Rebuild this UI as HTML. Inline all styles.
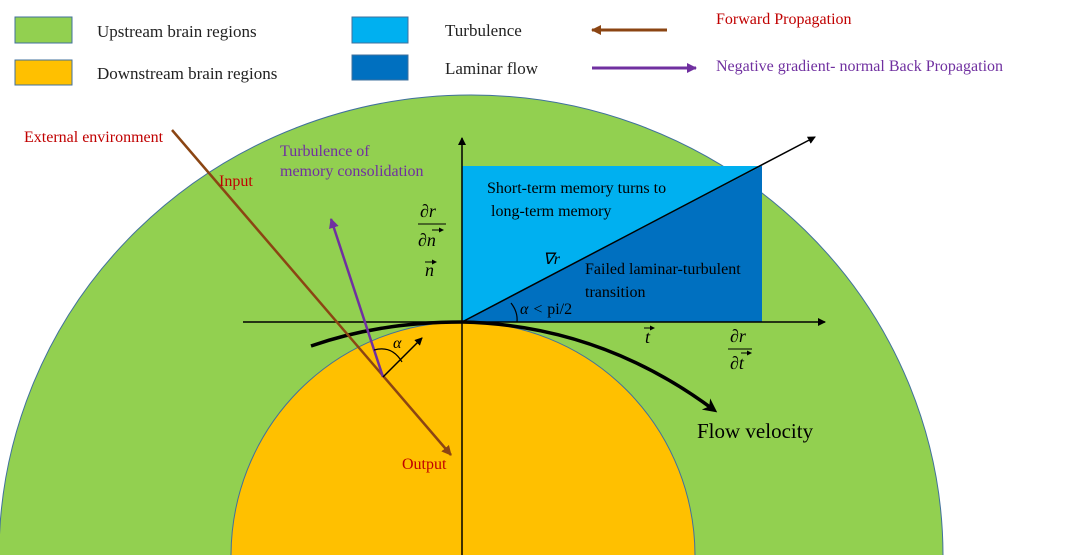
<!DOCTYPE html>
<html><head><meta charset="utf-8"><style>
html,body{margin:0;background:#fff;width:1080px;height:555px;overflow:hidden}
svg{display:block;font-family:"Liberation Serif",serif}
</style></head><body>
<svg width="1080" height="555" viewBox="0 0 1080 555" xmlns="http://www.w3.org/2000/svg">
<defs>
<marker id="ab" markerWidth="8" markerHeight="8" refX="7" refY="4" orient="auto" markerUnits="userSpaceOnUse"><path d="M0,0 L8,4 L0,8z" fill="#000"/></marker>
<marker id="ab2" markerWidth="14" markerHeight="14" refX="10" refY="7" orient="auto" markerUnits="userSpaceOnUse"><path d="M0,0 L14,7 L0,14 L4,7z" fill="#000"/></marker>
<marker id="abr" markerWidth="10" markerHeight="10" refX="9" refY="5" orient="auto" markerUnits="userSpaceOnUse"><path d="M0,0 L10,5 L0,10z" fill="#8B4513"/></marker>
<marker id="apu" markerWidth="10" markerHeight="10" refX="9" refY="5" orient="auto" markerUnits="userSpaceOnUse"><path d="M0,0 L10,5 L0,10z" fill="#7030A0"/></marker>
<marker id="sm" markerWidth="5" markerHeight="5" refX="4" refY="2.5" orient="auto" markerUnits="userSpaceOnUse"><path d="M0,0 L5,2.5 L0,5z" fill="#000"/></marker>
</defs>
<!-- legend -->
<rect x="15" y="17" width="57" height="26" fill="#92D050" stroke="#41719C" stroke-width="1"/>
<rect x="15" y="60" width="57" height="25" fill="#FFC000" stroke="#41719C" stroke-width="1"/>
<rect x="352" y="17" width="56" height="26" fill="#00B0F0" stroke="#41719C" stroke-width="1"/>
<rect x="352" y="55" width="56" height="25" fill="#0070C0" stroke="#41719C" stroke-width="1"/>
<g font-size="17" fill="#222">
<text x="97" y="37">Upstream brain regions</text>
<text x="97" y="79">Downstream brain regions</text>
<text x="445" y="36">Turbulence</text>
<text x="445" y="74">Laminar flow</text>
</g>
<line x1="667" y1="30" x2="592" y2="30" stroke="#8B4513" stroke-width="3" marker-end="url(#abr)"/>
<line x1="592" y1="68" x2="696" y2="68" stroke="#7030A0" stroke-width="3" marker-end="url(#apu)"/>
<text x="716" y="24" font-size="16" fill="#C00000">Forward Propagation</text>
<text x="716" y="71" font-size="16" fill="#7030A0">Negative gradient- normal Back Propagation</text>
<!-- regions -->
<ellipse cx="471" cy="556" rx="472" ry="461" fill="#92D050" stroke="#41719C" stroke-width="1"/>
<ellipse cx="463" cy="556" rx="232" ry="234" fill="#FFC000" stroke="#41719C" stroke-width="1"/>
<rect x="462" y="166" width="300" height="156" fill="#00B0F0"/>
<polygon points="462,322 762,166 762,322" fill="#0070C0"/>
<!-- axes -->
<line x1="243" y1="322" x2="825" y2="322" stroke="#000" stroke-width="1.5" marker-end="url(#ab)"/>
<line x1="462" y1="555" x2="462" y2="138" stroke="#000" stroke-width="1.5" marker-end="url(#ab)"/>
<line x1="462" y1="322" x2="815" y2="137" stroke="#000" stroke-width="1.5" marker-end="url(#ab)"/>
<!-- flow curve -->
<path d="M311,346 Q380,322 462,322 Q600,325 714,410" fill="none" stroke="#000" stroke-width="3.5" marker-end="url(#ab2)"/>
<!-- lines -->
<line x1="172" y1="130" x2="451" y2="455" stroke="#8B4513" stroke-width="2.5" marker-end="url(#abr)"/>
<line x1="383" y1="377" x2="331" y2="219" stroke="#7030A0" stroke-width="2.5" marker-end="url(#apu)"/>
<line x1="383" y1="377" x2="422" y2="338" stroke="#000" stroke-width="1.5" marker-end="url(#ab)"/>
<path d="M374,350 Q392,345 402,362" fill="none" stroke="#000" stroke-width="1.2"/>
<path d="M511,303 Q518,312 517,322" fill="none" stroke="#000" stroke-width="1.2"/>
<!-- labels -->
<text x="24" y="142" font-size="16" fill="#C00000">External environment</text>
<text x="219" y="186" font-size="16" fill="#C00000">Input</text>
<text x="280" y="156" font-size="16" fill="#7030A0">Turbulence of</text>
<text x="280" y="176" font-size="16" fill="#7030A0">memory consolidation</text>
<text x="402" y="469" font-size="16" fill="#C00000">Output</text>
<text x="697" y="438" font-size="21" fill="#000">Flow velocity</text>
<g font-size="16" fill="#000">
<text x="487" y="193">Short-term memory turns to</text>
<text x="491" y="216">long-term memory</text>
<text x="585" y="274">Failed laminar-turbulent</text>
<text x="585" y="297">transition</text>
<text x="520" y="314" font-style="italic">α &lt; <tspan font-style="normal">pi/2</tspan></text>
<text x="543" y="264" font-style="italic">∇r</text>
<text x="393" y="348" font-style="italic">α</text>
<text x="420" y="217" font-style="italic" font-size="18">∂r</text>
<line x1="418" y1="224" x2="446" y2="224" stroke="#000" stroke-width="1"/>
<text x="418" y="246" font-style="italic" font-size="18">∂n</text>
<line x1="432" y1="230" x2="443" y2="230" stroke="#000" stroke-width="1" marker-end="url(#sm)"/>
<text x="425" y="276" font-style="italic" font-size="18">n</text>
<line x1="425" y1="262" x2="436" y2="262" stroke="#000" stroke-width="1" marker-end="url(#sm)"/>
<text x="645" y="343" font-style="italic" font-size="18">t</text>
<line x1="644" y1="328" x2="654" y2="328" stroke="#000" stroke-width="1" marker-end="url(#sm)"/>
<text x="730" y="342" font-style="italic" font-size="18">∂r</text>
<line x1="728" y1="349" x2="752" y2="349" stroke="#000" stroke-width="1"/>
<text x="730" y="369" font-style="italic" font-size="18">∂t</text>
<line x1="741" y1="353" x2="751" y2="353" stroke="#000" stroke-width="1" marker-end="url(#sm)"/>
</g>
</svg>
</body></html>
